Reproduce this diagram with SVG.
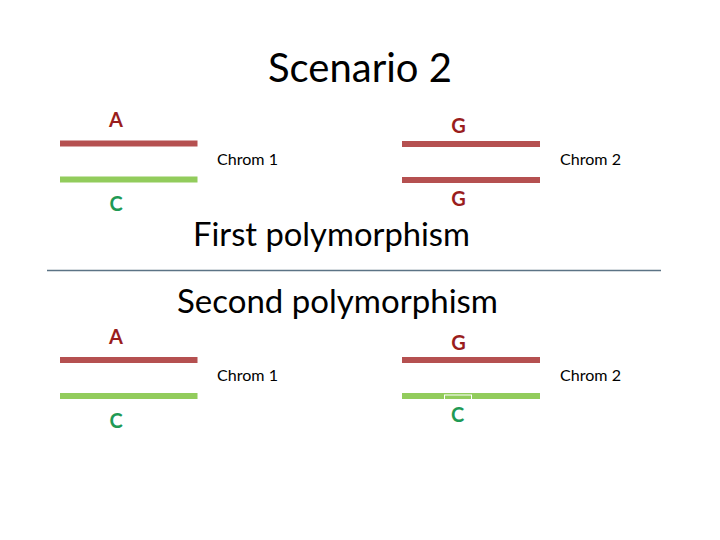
<svg xmlns="http://www.w3.org/2000/svg" width="720" height="540" viewBox="0 0 720 540">
<style>
.t{font-family:Lato,"Open Sans","Liberation Sans",sans-serif;fill:#000}
.al{font-family:Lato,"Open Sans","Liberation Sans",sans-serif;font-weight:bold;font-size:20px}
.red{fill:#9a1d1d}
.grn{fill:#1f9a55}
.ch{font-family:Lato,"Open Sans","Liberation Sans",sans-serif;font-size:16px;fill:#000}
.rb{stroke:#b55050;stroke-width:6}
.gb{stroke:#92cc5c;stroke-width:6}
</style>
<rect width="720" height="540" fill="#fff"/>
<text class="t" x="268" y="82" font-size="40" textLength="184" lengthAdjust="spacingAndGlyphs">Scenario 2</text>
<g id="top-chrom1">
<line class="rb" x1="60" y1="143.5" x2="197.5" y2="143.5"/>
<line class="gb" x1="60" y1="179.5" x2="197.5" y2="179.5"/>
<text class="al red" x="116" y="127" text-anchor="middle">A</text>
<text class="al grn" x="116" y="210.5" text-anchor="middle">C</text>
<text class="ch" x="217" y="165" textLength="61" lengthAdjust="spacingAndGlyphs">Chrom 1</text>
</g>
<g id="top-chrom2">
<line class="rb" x1="402" y1="144" x2="540" y2="144"/>
<line class="rb" x1="402" y1="180" x2="540" y2="180"/>
<text class="al red" x="458.5" y="133" text-anchor="middle">G</text>
<text class="al red" x="458.5" y="205.5" text-anchor="middle">G</text>
<text class="ch" x="560" y="165" textLength="61" lengthAdjust="spacingAndGlyphs">Chrom 2</text>
</g>
<text class="t" x="193" y="246" font-size="32" textLength="277" lengthAdjust="spacingAndGlyphs">First polymorphism</text>
<g id="divider">
<line x1="47" y1="270.5" x2="661" y2="270.5" stroke="#5b7385" stroke-width="1.5"/>
</g>
<text class="t" x="177" y="313" font-size="32" textLength="321" lengthAdjust="spacingAndGlyphs">Second polymorphism</text>
<g id="bottom-chrom1">
<line class="rb" x1="60" y1="360" x2="197.5" y2="360"/>
<line class="gb" x1="60" y1="396" x2="197.5" y2="396"/>
<text class="al red" x="116" y="344" text-anchor="middle">A</text>
<text class="al grn" x="116" y="428" text-anchor="middle">C</text>
<text class="ch" x="217" y="381" textLength="61" lengthAdjust="spacingAndGlyphs">Chrom 1</text>
</g>
<g id="bottom-chrom2">
<line class="rb" x1="402" y1="360" x2="540" y2="360"/>
<line class="gb" x1="402" y1="396" x2="540" y2="396"/>
<rect x="444.5" y="395" width="27" height="4.5" fill="none" stroke="#fff" stroke-width="1"/>
<text class="al red" x="458.5" y="350" text-anchor="middle">G</text>
<text class="al grn" x="457.5" y="422" text-anchor="middle">C</text>
<text class="ch" x="560" y="381" textLength="61" lengthAdjust="spacingAndGlyphs">Chrom 2</text>
</g>
</svg>
